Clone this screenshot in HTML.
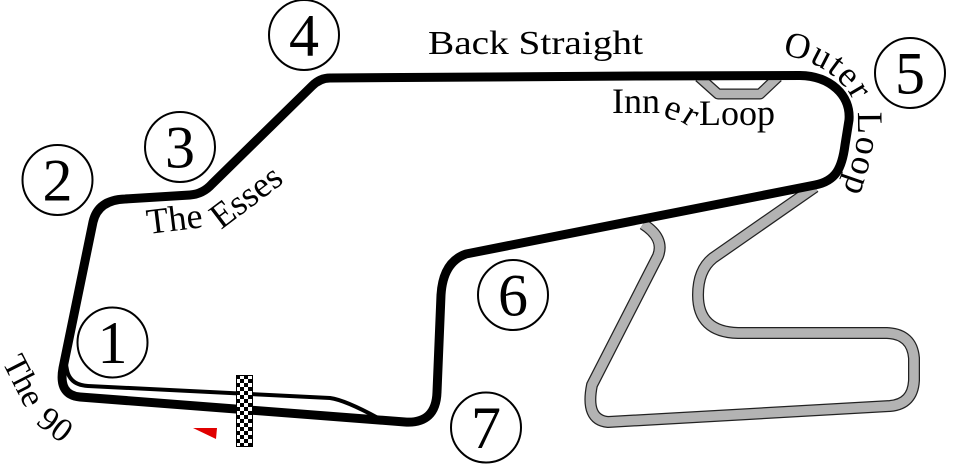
<!DOCTYPE html>
<html><head><meta charset="utf-8"><style>
html,body{margin:0;padding:0;background:#fff;}
svg{display:block;}
text{font-family:"Liberation Serif",serif;fill:#000;}
</style></head><body>
<svg width="963" height="476" viewBox="0 0 963 476" xmlns="http://www.w3.org/2000/svg">
<defs>
<pattern id="chk" x="236" y="375" width="8" height="8" patternUnits="userSpaceOnUse">
<rect width="8" height="8" fill="#fff"/>
<rect width="4" height="4" fill="#000"/>
<rect x="4" y="4" width="4" height="4" fill="#000"/>
</pattern>
<path id="pOuter" d="M 782,55 C 820,60 852,85 857,112 C 861,135 853,168 838,204" fill="none"/>
</defs>

<!-- gray secondary circuit -->
<g fill="none" stroke-linejoin="round" stroke-linecap="butt">
<path d="M 643,224 Q 665,238 658,256 L 592,385 Q 585,420 608,422 L 890,406 Q 913,404 914,380 L 914,358 Q 912,334 887,333 L 738,333 Q 698,332 698,295 Q 698,270 713,258 L 815,187" stroke="#222" stroke-width="12"/>
<path d="M 643,224 Q 665,238 658,256 L 592,385 Q 585,420 608,422 L 890,406 Q 913,404 914,380 L 914,358 Q 912,334 887,333 L 738,333 Q 698,332 698,295 Q 698,270 713,258 L 815,187" stroke="#b3b3b3" stroke-width="9.5"/>
<path d="M 699,77 L 718,94 L 760,94 L 778,77" stroke="#222" stroke-width="11"/>
<path d="M 699,77 L 718,94 L 760,94 L 778,77" stroke="#b3b3b3" stroke-width="8.5"/>
</g>

<!-- main track -->
<path d="M 80,397 L 405,422 Q 436,424 437,392 L 441,295 Q 443,262 466,254 L 815,185 C 836,181 842,168 845,145 L 849,120 C 851,95 830,76 800,75.5 L 640,76 L 330,78 Q 320,78 312,86 L 212,184 Q 203,194 190,195 L 125,199 Q 98,200 93,222 L 63,368 Q 58,395 80,397 Z" fill="none" stroke="#000" stroke-width="9" stroke-linejoin="round"/>
<!-- pit lane -->
<path d="M 64,354 L 67,370 Q 70,385 88,386 L 330,398 Q 345,400 378,418" fill="none" stroke="#000" stroke-width="4" stroke-linejoin="round"/>

<!-- flag & marker -->
<rect x="236.5" y="375.5" width="16" height="71" fill="url(#chk)" stroke="#000" stroke-width="1"/>
<polygon points="193,428 217,428 216,439" fill="#e00000"/>

<!-- turn circles -->
<g fill="none" stroke="#000" stroke-width="2">
<circle cx="112.5" cy="342.5" r="35"/>
<circle cx="57.5" cy="180" r="35"/>
<circle cx="180" cy="147" r="35"/>
<circle cx="304" cy="35" r="35"/>
<circle cx="910" cy="73" r="35"/>
<circle cx="513" cy="295" r="35"/>
<circle cx="486" cy="427.5" r="35"/>
</g>
<g font-size="60" text-anchor="middle">
<text x="112.5" y="363">1</text>
<text x="57.5" y="200.5">2</text>
<text x="180" y="167.5">3</text>
<text x="304" y="55.5">4</text>
<text x="910" y="93.5">5</text>
<text x="513" y="315.5">6</text>
<text x="486" y="448">7</text>
</g>

<!-- labels -->
<text x="428" y="54" font-size="34" textLength="215" lengthAdjust="spacingAndGlyphs">Back Straight</text>

<text x="612" y="113" font-size="36">Inn</text>
<text transform="translate(662,116) rotate(20)" font-size="36">e</text>
<text transform="translate(680,121) rotate(32)" font-size="36">r</text>
<text x="699" y="125" font-size="36">Loop</text>

<text font-size="36" letter-spacing="1.5"><textPath href="#pOuter">Outer Loop</textPath></text>

<text transform="translate(148,234) rotate(-7)" font-size="36">The</text>
<text transform="translate(221,230) rotate(-37)" font-size="36">Esses</text>

<text transform="translate(2,362) rotate(63)" font-size="34">The</text>
<text transform="translate(35,423) rotate(38)" font-size="34">90</text>
</svg>
</body></html>
